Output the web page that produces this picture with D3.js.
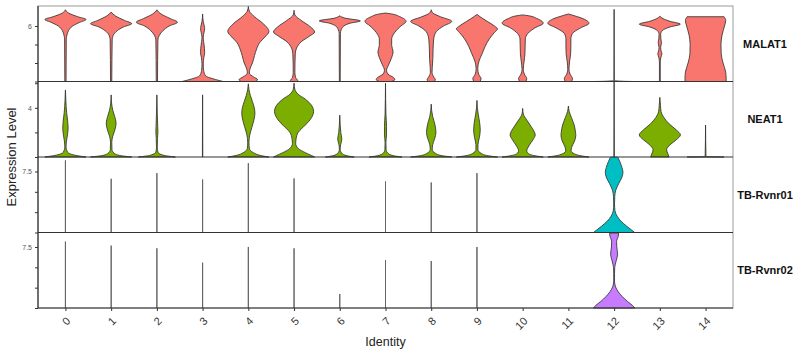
<!DOCTYPE html>
<html>
<head>
<meta charset="utf-8">
<script src="https://cdn.jsdelivr.net/npm/d3@7"></script>
<style>
  body { margin: 0; background: #fff; }
  svg { display: block; font-family: "Liberation Sans", Arial, sans-serif; }
</style>
</head>
<body>
<div id="chart"></div>
<script>
// genes (one panel each) and clusters
var genes = ["MALAT1", "NEAT1", "TB-Rvnr01", "TB-Rvnr02"];
var identities = ["0", "1", "2", "3", "4", "5", "6", "7", "8", "9", "10", "11", "12", "13", "14"];

// y axis for every panel
var yMax = [8.16, 6.14, 9.28, 9.28];
var yTicks = [[0, 2, 4, 6], [0, 2, 4, 6], [0, 2.5, 5, 7.5], [0, 2.5, 5, 7.5]];
var yTickLabels = [[6], [4], [7.5], [7.5]];

// violin outlines: [expression, relative half width], top to bottom
var malat1 = [
  [[7.75,0],[7.4,0.15],[7.0,0.6],[6.7,1],[6.4,0.7],[6.0,0.35],[5.5,0.15],[5.0,0.07],[4.5,0.04],[0,0.03]],
  [[7.5,0],[7.1,0.2],[6.6,0.65],[6.25,1],[5.9,0.6],[5.5,0.3],[5.0,0.1],[4.5,0.05],[0,0.03]],
  [[7.75,0],[7.3,0.2],[6.8,0.65],[6.4,1],[6.0,0.6],[5.5,0.3],[5.0,0.12],[4.5,0.05],[0,0.03]],
  [[7.3,0],[6.5,0.03],[6.0,0.08],[5.7,0.1],[5.3,0.07],[4.8,0.03],[4.3,0.05],[3.6,0.09],[3.1,0.1],[2.6,0.06],[1.9,0.03],[1.2,0.05],[0.6,0.15],[0.3,0.5],[0,1]],
  [[8.1,0],[7.6,0.05],[7.0,0.3],[6.3,0.7],[5.4,1],[4.8,0.8],[4.2,0.55],[3.5,0.4],[2.8,0.3],[2.0,0.2],[1.3,0.07],[0.9,0.05],[0.5,0.25],[0.2,0.45],[0,0.35]],
  [[7.7,0],[7.2,0.04],[6.6,0.35],[5.9,0.8],[5.35,1],[4.9,0.75],[4.3,0.35],[3.6,0.12],[3.0,0.06],[1.0,0.04],[0.4,0.08],[0.1,0.18],[0,0.15]],
  [[7.1,0],[6.85,0.25],[6.55,1],[6.3,0.5],[6.0,0.2],[5.6,0.07],[5.2,0.03],[0,0.02]],
  [[7.4,0],[7.3,0.3],[7.0,0.7],[6.5,1],[6.0,0.75],[5.3,0.45],[4.6,0.3],[3.9,0.3],[3.2,0.37],[2.6,0.3],[1.8,0.15],[1.2,0.05],[0.8,0.12],[0.4,0.4],[0.2,0.45],[0,0.3]],
  [[7.75,0],[7.4,0.08],[7.0,0.45],[6.5,1],[6.0,0.6],[5.4,0.25],[4.6,0.12],[3.5,0.09],[2.5,0.08],[1.5,0.05],[1.0,0.04],[0.5,0.12],[0.2,0.2],[0,0.15]],
  [[7.25,0],[7.0,0.15],[6.5,0.5],[6.0,0.85],[5.7,1],[5.3,0.85],[4.6,0.6],[3.8,0.4],[3.0,0.25],[2.2,0.1],[1.4,0.04],[0.8,0.08],[0.3,0.2],[0,0.15]],
  [[7.2,0],[7.1,0.3],[6.8,0.7],[6.3,1],[5.8,0.6],[5.2,0.25],[4.6,0.13],[3.8,0.12],[3.0,0.11],[2.2,0.07],[1.3,0.03],[0.8,0.08],[0.3,0.2],[0,0.15]],
  [[7.3,0],[7.1,0.3],[6.8,0.7],[6.3,1],[5.8,0.6],[5.2,0.2],[4.6,0.12],[3.8,0.12],[3.0,0.11],[2.2,0.06],[1.3,0.03],[0.8,0.08],[0.3,0.2],[0,0.15]],
  [[7.8,0],[0.1,0.01],[0.02,0.5],[0,1]],
  [[7.05,0],[6.8,0.15],[6.5,0.5],[6.2,1],[5.9,0.5],[5.5,0.12],[5.1,0.04],[4.6,0.05],[4.2,0.08],[3.7,0.04],[3.3,0.06],[3.0,0.1],[2.6,0.05],[2.0,0.02],[0,0.02]],
  [[7.0,0.9],[6.6,0.98],[6.0,0.92],[5.0,0.8],[4.0,0.75],[3.0,0.76],[2.0,0.85],[1.0,0.98],[0.3,1],[0,1]]
];

var neat1 = [
  [[5.45,0],[4.6,0.02],[3.6,0.06],[2.9,0.11],[2.35,0.13],[1.8,0.1],[1.3,0.05],[0.8,0.03],[0.4,0.1],[0.15,0.45],[0,1]],
  [[5.05,0],[4.4,0.02],[3.8,0.08],[3.3,0.17],[2.75,0.24],[2.2,0.18],[1.7,0.08],[1.2,0.03],[0.6,0.04],[0.3,0.15],[0.1,0.5],[0,1]],
  [[5.05,0],[3.5,0.02],[2.5,0.04],[2.05,0.05],[1.5,0.03],[0.8,0.02],[0.4,0.05],[0.15,0.3],[0,0.9]],
  [[5.05,0],[0,0.01]],
  [[5.95,0],[5.5,0.03],[5.0,0.1],[4.5,0.2],[4.0,0.29],[3.55,0.32],[3.0,0.27],[2.4,0.17],[1.8,0.07],[1.2,0.03],[0.7,0.05],[0.35,0.25],[0.12,0.6],[0,1]],
  [[6.0,0],[5.5,0.04],[5.1,0.2],[4.7,0.55],[4.2,0.85],[3.7,0.95],[3.2,0.85],[2.6,0.55],[2.0,0.2],[1.5,0.1],[1.1,0.08],[0.7,0.2],[0.35,0.55],[0.12,0.85],[0,1]],
  [[3.4,0],[2.6,0.02],[2.0,0.05],[1.45,0.1],[1.0,0.04],[0.6,0.02],[0.3,0.1],[0.1,0.35],[0,0.7]],
  [[6.0,0],[3.5,0.02],[2.5,0.05],[1.8,0.05],[1.2,0.02],[0.6,0.03],[0.3,0.12],[0.1,0.4],[0,0.8]],
  [[4.3,0],[3.8,0.02],[3.3,0.07],[2.7,0.17],[2.0,0.23],[1.5,0.17],[1.0,0.07],[0.6,0.05],[0.3,0.2],[0.1,0.55],[0,1]],
  [[4.6,0],[4.0,0.02],[3.5,0.06],[2.8,0.13],[2.2,0.16],[1.6,0.12],[1.0,0.05],[0.6,0.05],[0.3,0.2],[0.1,0.55],[0,1]],
  [[3.95,0],[3.5,0.03],[3.0,0.2],[2.5,0.4],[2.1,0.55],[1.8,0.61],[1.4,0.5],[0.9,0.3],[0.5,0.2],[0.25,0.3],[0.1,0.6],[0,1]],
  [[4.15,0],[3.7,0.04],[3.2,0.15],[2.6,0.28],[2.1,0.34],[1.75,0.36],[1.3,0.3],[0.8,0.16],[0.5,0.13],[0.25,0.3],[0.1,0.6],[0,1]],
  [[6.14,0],[0,0.01]],
  [[4.85,0],[4.2,0.03],[3.7,0.06],[3.2,0.2],[2.7,0.45],[2.2,0.8],[1.8,1.0],[1.4,0.8],[1.0,0.5],[0.6,0.33],[0.3,0.38],[0,0.45]],
  [[2.6,0],[0.03,0.02],[0,0.9]]
];

var rvnr01 = [
  [[8.86,0],[0,0]], [[6.6,0],[0,0]], [[7.3,0],[0,0]], [[6.52,0],[0,0]], [[8.52,0],[0,0]],
  [[6.64,0],[0,0]], null, [[6.27,0],[0,0]], [[6.15,0],[0,0]], [[7.3,0],[0,0]],
  null, null,
  [[9.25,0.18],[8.7,0.28],[8.0,0.38],[7.4,0.43],[6.8,0.38],[6.0,0.22],[5.2,0.08],[4.4,0.03],[3.5,0.02],[2.7,0.04],[2.0,0.15],[1.4,0.33],[0.8,0.6],[0.3,0.85],[0,1]],
  null, null
];

var rvnr02 = [
  [[8.16,0],[0,0]], [[7.67,0],[0,0]], [[7.34,0],[0,0]], [[5.57,0],[0,0]], [[7.5,0],[0,0]],
  [[7.34,0],[0,0]], [[1.72,0],[0,0]], [[5.9,0],[0,0]], [[5.78,0],[0,0]], [[7.5,0],[0,0]],
  null, null,
  [[9.2,0.22],[8.8,0.2],[8.2,0.12],[7.5,0.13],[6.6,0.17],[5.8,0.1],[5.0,0.03],[4.2,0.02],[3.3,0.02],[2.6,0.07],[2.0,0.2],[1.4,0.4],[0.8,0.65],[0.3,0.9],[0,1]],
  null, null
];

var violins = [malat1, neat1, rvnr01, rvnr02];
var fills = ["#F8766D", "#7CAE00", "#00BFC4", "#C77CFF"];

var W = 800, H = 354;
var plotLeft = 38, plotRight = 733, plotTop = 6, panelH = 75.5;

var svg = d3.select("#chart").append("svg")
    .attr("width", W)
    .attr("height", H);

var x = d3.scalePoint()
    .domain(identities)
    .range([plotLeft, plotRight])
    .padding(0.6);

var halfW = d3.scaleLinear()
    .domain([0, 1])
    .range([0, x.step() * 0.45]);

// outer frame (light grey on top and right)
svg.append("rect")
    .attr("x", plotLeft).attr("y", plotTop)
    .attr("width", plotRight - plotLeft).attr("height", panelH * 4)
    .attr("fill", "none")
    .attr("stroke", "#9a9a9a")
    .attr("stroke-width", 1);

genes.forEach(function(gene, gi) {
    var y0 = plotTop + gi * panelH;
    var y = d3.scaleLinear()
        .domain([0, yMax[gi]])
        .range([y0 + panelH, y0]);

    var g = svg.append("g");

    // violins
    var area = d3.area()
        .curve(d3.curveMonotoneY)
        .y(function(d) { return y(d[0]); });

    violins[gi].forEach(function(v, ci) {
        if (!v) return;
        var cx = x(identities[ci]);
        var flat = d3.max(v, function(d) { return d[1]; }) === 0;
        area.x0(function(d) { return cx - halfW(d[1]); })
            .x1(function(d) { return cx + halfW(d[1]); });
        g.append("path")
            .attr("d", area(v))
            .attr("fill", fills[gi])
            .attr("stroke", flat ? "#666" : "#333")
            .attr("stroke-width", flat ? 1 : 0.85)
            .attr("stroke-linejoin", "round");
    });

    // y axis ticks
    var yAxis = d3.axisLeft(y)
        .tickValues(yTicks[gi])
        .tickSize(3)
        .tickFormat(function(d) {
            return yTickLabels[gi].indexOf(d) >= 0 ? d : "";
        });
    var ax = svg.append("g")
        .attr("transform", "translate(" + plotLeft + ",0)")
        .call(yAxis);
    ax.select(".domain").remove();
    ax.selectAll("line").attr("stroke", "#333");
    ax.selectAll("text")
        .attr("font-size", "7px")
        .attr("fill", "#555")
        .attr("x", -6);

    // bottom line of panel
    svg.append("line")
        .attr("x1", plotLeft).attr("x2", plotRight)
        .attr("y1", y0 + panelH).attr("y2", y0 + panelH)
        .attr("stroke", "#333")
        .attr("stroke-width", 1.2);

    // gene label on the right
    svg.append("text")
        .attr("x", 765)
        .attr("y", y0 + panelH / 2)
        .attr("dy", "0.35em")
        .attr("text-anchor", "middle")
        .attr("font-size", "11px")
        .attr("font-weight", "bold")
        .attr("fill", "#111")
        .text(gene);
});

// left axis line
svg.append("line")
    .attr("x1", plotLeft).attr("x2", plotLeft)
    .attr("y1", plotTop).attr("y2", plotTop + panelH * 4)
    .attr("stroke", "#333")
    .attr("stroke-width", 1.2);

// x axis
var xBottom = plotTop + panelH * 4;
var xAxis = svg.append("g")
    .attr("transform", "translate(0," + xBottom + ")")
    .call(d3.axisBottom(x).tickSize(3).tickFormat(""));
xAxis.select(".domain").remove();
xAxis.selectAll("line").attr("stroke", "#333");

svg.selectAll(".xlab")
    .data(identities)
    .enter()
    .append("text")
    .attr("class", "xlab")
    .attr("transform", function(d) {
        return "translate(" + (x(d) + 3) + "," + (xBottom + 11) + ") rotate(-45)";
    })
    .attr("text-anchor", "end")
    .attr("dy", "0.35em")
    .attr("font-size", "11px")
    .attr("fill", "#333")
    .text(function(d) { return d; });

// axis titles
svg.append("text")
    .attr("x", (plotLeft + plotRight) / 2)
    .attr("y", 346)
    .attr("text-anchor", "middle")
    .attr("font-size", "12.5px")
    .attr("fill", "#222")
    .text("Identity");

svg.append("text")
    .attr("transform", "translate(16," + (plotTop + panelH * 2) + ") rotate(-90)")
    .attr("text-anchor", "middle")
    .attr("font-size", "13px")
    .attr("fill", "#222")
    .text("Expression Level");
</script>
</body>
</html>
